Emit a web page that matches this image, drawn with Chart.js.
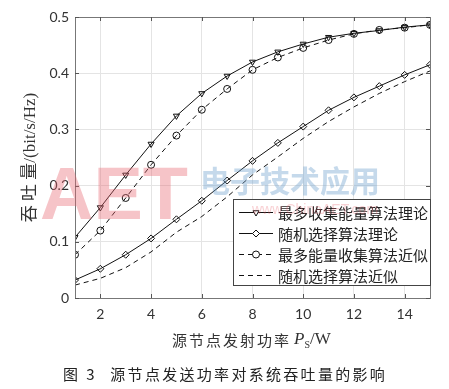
<!DOCTYPE html>
<html>
<head>
<meta charset="utf-8">
<script src="https://cdn.jsdelivr.net/npm/chart.js@4.4.0/dist/chart.umd.min.js"></script>
<style>
  html, body { margin: 0; padding: 0; background: #fff; }
  #wrap { width: 449px; height: 389px; }
</style>
</head>
<body>
<div id="wrap"><canvas id="powerChart" width="449" height="389"></canvas></div>
<script>
// data
var powers = [1, 2, 3, 4, 5, 6, 7, 8, 9, 10, 11, 12, 13, 14, 15];
var maxTheory  = [0.108, 0.161, 0.219, 0.274, 0.324, 0.364, 0.395, 0.420, 0.438, 0.452, 0.464, 0.471, 0.476, 0.482, 0.486];
var randTheory = [0.032, 0.052, 0.077, 0.106, 0.140, 0.173, 0.209, 0.244, 0.276, 0.305, 0.334, 0.357, 0.377, 0.397, 0.415];
var maxApprox  = [0.077, 0.120, 0.178, 0.237, 0.289, 0.335, 0.372, 0.406, 0.428, 0.445, 0.459, 0.470, 0.477, 0.481, 0.486];
var randApprox = [0.023, 0.035, 0.054, 0.082, 0.117, 0.145, 0.180, 0.219, 0.251, 0.284, 0.314, 0.340, 0.364, 0.385, 0.404];
var seriesNames = ["最多收集能量算法理论", "随机选择算法理论", "最多能量收集算法近似", "随机选择算法近似"];
var xTicks = [2, 4, 6, 8, 10, 12, 14];
var yTicks = [0, 0.1, 0.2, 0.3, 0.4, 0.5];
var xTitle = "源节点发射功率 ";
var yTitle = "吞 吐 量/(bit/s/Hz)";
var caption = "图 3  源节点发送功率对系统吞吐量的影响";

var tickFont = "Lato, 'DejaVu Sans', sans-serif";
var cjkFont = "'Noto Sans CJK SC', sans-serif";
var serifFont = "'Liberation Serif', 'Noto Sans CJK SC', serif";

function toPoints(vals){
  return powers.map(function(p, i){ return {x: p, y: vals[i]}; });
}

function makeSet(label, vals, dash, style, rot){
  return {
    label: label,
    data: toPoints(vals),
    borderColor: '#111',
    borderWidth: 1,
    borderDash: dash,
    backgroundColor: 'rgba(0,0,0,0)',
    pointStyle: style,
    pointRotation: rot,
    pointRadius: style ? 3.5 : 0,
    pointBorderWidth: 1,
    pointBorderColor: '#111',
    pointBackgroundColor: 'rgba(0,0,0,0)',
    tension: 0
  };
}

// frame round the plot, ticks pointing inward
var framePlugin = {
  id: 'frame',
  afterDatasetsDraw: function(chart){
    var ctx = chart.ctx, a = chart.chartArea;
    var xs = chart.scales.x, ys = chart.scales.y;
    ctx.save();
    ctx.strokeStyle = '#777';
    ctx.lineWidth = 1;
    ctx.strokeRect(Math.round(a.left) + 0.5, Math.round(a.top) + 0.5,
                   Math.round(a.right - a.left), Math.round(a.bottom - a.top));
    ctx.strokeStyle = '#555';
    ctx.beginPath();
    xTicks.forEach(function(t){
      var px = Math.round(xs.getPixelForValue(t)) + 0.5;
      ctx.moveTo(px, a.bottom); ctx.lineTo(px, a.bottom - 4);
      ctx.moveTo(px, a.top); ctx.lineTo(px, a.top + 4);
    });
    yTicks.forEach(function(t){
      var py = Math.round(ys.getPixelForValue(t)) + 0.5;
      ctx.moveTo(a.left, py); ctx.lineTo(a.left + 4, py);
      ctx.moveTo(a.right, py); ctx.lineTo(a.right - 4, py);
    });
    ctx.stroke();
    ctx.restore();
  }
};

// legend box in the lower right corner of the plot
var legendPlugin = {
  id: 'boxLegend',
  afterDatasetsDraw: function(chart){
    var ctx = chart.ctx, a = chart.chartArea;
    var bx = 233, by = 199, bw = a.right - bx, bh = 86;
    ctx.save();
    ctx.fillStyle = '#fff';
    ctx.fillRect(bx, by, bw, bh);
    ctx.strokeStyle = '#444';
    ctx.lineWidth = 1;
    ctx.strokeRect(bx + 0.5, by + 0.5, bw, bh);
    chart.data.datasets.forEach(function(ds, i){
      var y = by + 13 + i * 21;
      ctx.strokeStyle = '#111';
      ctx.lineWidth = 1;
      ctx.setLineDash(ds.borderDash || []);
      ctx.beginPath();
      ctx.moveTo(bx + 6, y + 0.5);
      ctx.lineTo(bx + 40, y + 0.5);
      ctx.stroke();
      ctx.setLineDash([]);
      if (ds.pointStyle){
        ctx.fillStyle = '#fff';
        Chart.helpers.drawPoint(ctx, {pointStyle: ds.pointStyle, rotation: ds.pointRotation || 0,
                                      radius: 3.5, borderWidth: 1}, bx + 23, y + 0.5);
      }
      ctx.fillStyle = '#222';
      ctx.font = '15px ' + cjkFont;
      ctx.textBaseline = 'middle';
      ctx.textAlign = 'left';
      ctx.fillText(seriesNames[i], bx + 45, y + 1);
    });
    ctx.restore();
  }
};

// x title with subscript, caption and the faint watermark
var textPlugin = {
  id: 'texts',
  afterDraw: function(chart){
    var ctx = chart.ctx;
    ctx.save();
    ctx.fillStyle = '#333';
    ctx.textBaseline = 'middle';
    ctx.textAlign = 'left';
    ctx.font = '15px ' + cjkFont;
    var x = 172;
    for (var i = 0; i < xTitle.length; i++){
      ctx.fillText(xTitle[i], x, 340);
      x += xTitle[i] === ' ' ? 3 : 17;
    }
    ctx.font = 'italic 17px ' + serifFont;
    ctx.fillText('P', x, 340);
    x += ctx.measureText('P').width;
    ctx.font = '10px ' + serifFont;
    ctx.fillText('S', x, 345);
    x += ctx.measureText('S').width;
    ctx.font = '17px ' + serifFont;
    ctx.fillText('/W', x, 340);

    ctx.font = '15px ' + cjkFont;
    ctx.fillStyle = '#222';
    x = 63;
    for (var j = 0; j < caption.length; j++){
      ctx.fillText(caption[j], x, 374);
      x += caption[j] === ' ' ? 6 : (caption[j] === '3' ? 12 : 17.3);
    }

    ctx.globalAlpha = 0.38;
    ctx.fillStyle = 'rgb(232,100,110)';
    ctx.font = 'bold 74px "Liberation Sans", sans-serif';
    ctx.textBaseline = 'alphabetic';
    ctx.fillText('AET', 40, 219);
    ctx.globalAlpha = 0.4;
    ctx.fillStyle = 'rgb(110,160,205)';
    ctx.font = 'bold 30px ' + cjkFont;
    ctx.fillText('电子技术应用', 200, 192);
    ctx.globalAlpha = 0.3;
    ctx.fillStyle = 'rgb(232,100,110)';
    ctx.font = '14px "Liberation Sans", sans-serif';
    ctx.fillText('www.ChinaAET.com', 252, 214);
    ctx.restore();
  }
};

function drawChart(){
  var ctx = document.getElementById('powerChart').getContext('2d');
  var chart = new Chart(ctx, {
    type: 'line',
    data: {
      datasets: [
        makeSet(seriesNames[0], maxTheory, [], 'triangle', 180),
        makeSet(seriesNames[1], randTheory, [], 'rectRot', 0),
        makeSet(seriesNames[2], maxApprox, [5, 4], 'circle', 0),
        makeSet(seriesNames[3], randApprox, [5, 4], false, 0)
      ]
    },
    options: {
      responsive: false,
      animation: false,
      devicePixelRatio: 1,
      layout: { padding: { left: 0, right: 19, top: 17, bottom: 0 } },
      plugins: { legend: { display: false }, tooltip: { enabled: false } },
      scales: {
        x: {
          type: 'linear',
          min: 1,
          max: 15,
          afterFit: function(s){ s.height = 91; },
          afterBuildTicks: function(s){ s.ticks = xTicks.map(function(v){ return {value: v}; }); },
          grid: { color: '#e4e4e4', drawTicks: false },
          border: { display: false },
          ticks: { color: '#333', padding: 8, font: { family: tickFont, size: 14 } }
        },
        y: {
          min: 0,
          max: 0.5,
          afterFit: function(s){ s.width = 75; },
          afterBuildTicks: function(s){ s.ticks = yTicks.map(function(v){ return {value: v}; }); },
          grid: { color: '#e4e4e4', drawTicks: false },
          border: { display: false },
          ticks: {
            color: '#333', padding: 6, font: { family: tickFont, size: 14 },
            callback: function(v){ return v === 0 ? '0' : v.toFixed(1); }
          },
          title: {
            display: true,
            text: yTitle,
            color: '#333',
            padding: { top: 20, bottom: 0 },
            font: { family: serifFont, size: 17 }
          }
        }
      }
    },
    plugins: [framePlugin, legendPlugin, textPlugin]
  });
}

drawChart();
</script>
</body>
</html>
